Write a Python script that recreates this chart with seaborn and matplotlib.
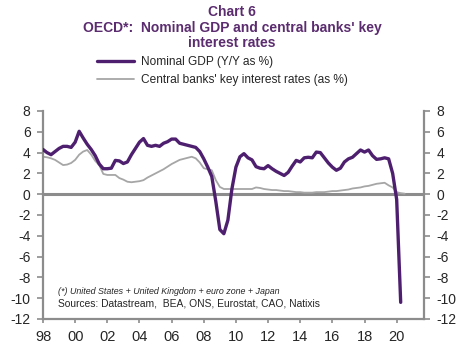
import numpy as np
import pandas as pd
import matplotlib
matplotlib.use("Agg")
import matplotlib.pyplot as plt
import seaborn as sns

# quarterly values, 1998Q1 onwards
gdp_start = 1998.0
gdp = [4.3, 4.0, 3.8, 4.1, 4.4, 4.6, 4.6, 4.5,
       5.0, 6.05, 5.4, 4.8, 4.3, 3.7, 2.9, 2.45,
       2.45, 2.5, 3.25, 3.2, 2.95, 3.1, 3.8, 4.4,
       5.0, 5.35, 4.7, 4.6, 4.7, 4.6, 4.9, 5.05,
       5.3, 5.3, 4.9, 4.8, 4.7, 4.6, 4.5, 4.1,
       3.4, 2.6, 1.7, -0.7, -3.4, -3.8, -2.5, 0.5,
       2.6, 3.6, 3.9, 3.5, 3.3, 2.65, 2.5, 2.45,
       2.75, 2.45, 2.2, 2.0, 1.8, 2.1, 2.7, 3.25,
       3.1, 3.5, 3.55, 3.5, 4.05, 4.0, 3.5, 3.0,
       2.6, 2.3, 2.5, 3.1, 3.4, 3.55, 3.9, 4.25,
       4.05, 4.25, 3.7, 3.35, 3.4, 3.5, 3.4, 2.0,
       -0.5, -10.4]

rates_start = 1998.0
rates = [3.6, 3.55, 3.45, 3.3, 3.05, 2.8, 2.85, 3.0,
         3.3, 3.8, 4.1, 4.25, 3.8, 3.2, 2.8, 1.95,
         1.85, 1.85, 1.85, 1.55, 1.4, 1.2, 1.15, 1.2,
         1.25, 1.35, 1.6, 1.8, 2.0, 2.2, 2.4, 2.65,
         2.9, 3.1, 3.3, 3.4, 3.5, 3.6, 3.45, 3.05,
         2.5, 2.4, 2.3, 1.35, 0.7, 0.5, 0.5, 0.5,
         0.5, 0.5, 0.5, 0.5, 0.5, 0.65, 0.6, 0.5,
         0.45, 0.4, 0.4, 0.35, 0.3, 0.3, 0.25, 0.2,
         0.2, 0.15, 0.15, 0.15, 0.2, 0.2, 0.2, 0.25,
         0.3, 0.3, 0.35, 0.4, 0.45, 0.55, 0.6, 0.65,
         0.75, 0.8, 0.9, 1.0, 1.05, 1.1, 0.85, 0.65,
         0.2, 0.1, 0.05]

year_ticks = list(range(1998, 2021, 2))
year_labels = ["98", "00", "02", "04", "06", "08", "10", "12", "14", "16", "18", "20"]
y_ticks = list(range(-12, 9, 2))

purple = "#4e1f6f"
grey_line = "#a6a6a6"
axis_grey = "#8c8c8c"

df_gdp = pd.DataFrame({"date": gdp_start + np.arange(len(gdp)) / 4, "value": gdp})
df_rates = pd.DataFrame({"date": rates_start + np.arange(len(rates)) / 4, "value": rates})

sns.set_style("white")
plt.rcParams["font.family"] = ["Liberation Sans", "DejaVu Sans"]
plt.rcParams["axes.unicode_minus"] = False

fig = plt.figure(figsize=(4.72, 3.51), dpi=100)
ax = fig.add_axes([43 / 472, 1 - 319 / 351, (424 - 43) / 472, (319 - 111) / 351])

ax.axhline(0, color=axis_grey, lw=2.2, zorder=1)
sns.lineplot(data=df_rates, x="date", y="value", ax=ax, color=grey_line, lw=1.3,
             label="Central banks' key interest rates (as %)", legend=False, zorder=2)
sns.lineplot(data=df_gdp, x="date", y="value", ax=ax, color=purple, lw=2.4,
             label="Nominal GDP (Y/Y as %)", legend=False, zorder=3)

ax.set_xlim(1998, 2021.7)
ax.set_ylim(-12, 8)
ax.set_xticks(year_ticks)
ax.set_xticklabels(year_labels)
ax.set_yticks(y_ticks)
ax.set_xlabel("")
ax.set_ylabel("")

for side in ["left", "right", "bottom"]:
    ax.spines[side].set_visible(True)
    ax.spines[side].set_color(axis_grey)
    ax.spines[side].set_linewidth(1.6)
ax.spines["top"].set_visible(False)

ax.tick_params(axis="y", which="both", left=True, right=True, labelleft=True, labelright=True,
               direction="out", length=4, width=1.2, color=axis_grey, labelsize=10, pad=5)
ax.tick_params(axis="x", bottom=True, direction="out", length=3, width=1.2, color=axis_grey,
               labelsize=10.5, pad=5)

# title
fig.text(232 / 472, 1 - 12 / 351, "Chart 6", ha="center", va="center",
         fontsize=10, fontweight="bold", color="#5b2c6f")
fig.text(232 / 472, 1 - 28 / 351, "OECD*:  Nominal GDP and central banks' key",
         ha="center", va="center", fontsize=10, fontweight="bold", color="#5b2c6f")
fig.text(232 / 472, 1 - 43 / 351, "interest rates", ha="center", va="center",
         fontsize=10, fontweight="bold", color="#5b2c6f")

# legend
handles, labels = ax.get_legend_handles_labels()
order = [1, 0]
fig.legend([handles[i] for i in order], [labels[i] for i in order],
           loc="upper left", bbox_to_anchor=(97 / 472, 1 - 56.5 / 351), frameon=False,
           fontsize=8.6, handlelength=3.1, handletextpad=0.55, labelspacing=0.5,
           borderpad=0, borderaxespad=0)

# notes
ax.text(58 / 472, 1 - 292 / 351, "(*) United States + United Kingdom + euro zone + Japan",
        transform=fig.transFigure, fontsize=6.4, style="italic", va="center")
ax.text(58 / 472, 1 - 304 / 351, "Sources: Datastream,  BEA, ONS, Eurostat, CAO, Natixis",
        transform=fig.transFigure, fontsize=7.4, va="center")

fig.savefig("out.png", dpi=100)
